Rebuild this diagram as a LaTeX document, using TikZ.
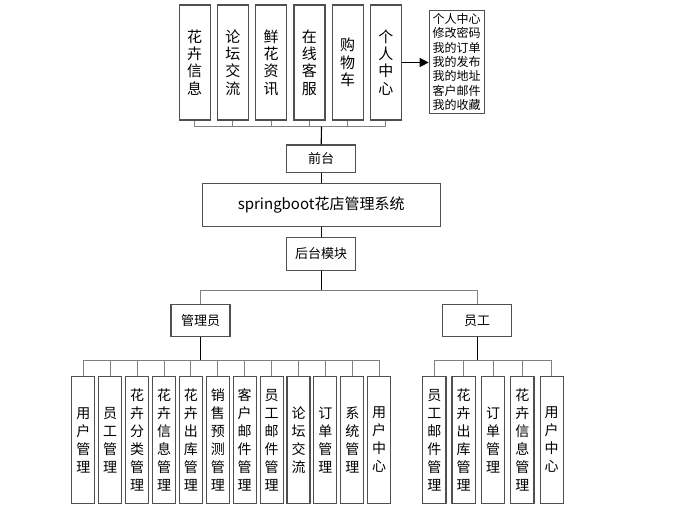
\documentclass[tikz,border=0pt]{standalone}
\usepackage{fontspec}
\setmainfont{Noto Sans CJK SC}
\usetikzlibrary{arrows.meta}
\definecolor{boxc}{HTML}{505050}
\definecolor{linec}{HTML}{808080}
\begin{document}
\begin{tikzpicture}[x=1pt,y=-1pt,
  box/.style={draw=boxc, line width=1.1pt, fill=white, inner sep=0pt, align=center},
  topbox/.style={box, minimum width=31pt, minimum height=115pt, font=\fontsize{15pt}{17.3pt}\selectfont},
  adbox/.style={box, minimum width=23pt, minimum height=126.6pt, font=\fontsize{14pt}{18pt}\selectfont},
  stbox/.style={box, minimum width=23.3pt, minimum height=126.6pt, font=\fontsize{14pt}{18pt}\selectfont},
  midbox/.style={box, minimum width=69pt, minimum height=32.7pt, font=\fontsize{13pt}{15pt}\selectfont},
  branch/.style={draw=linec, line width=1pt},
  trunk/.style={draw=black, line width=1.1pt}]
\useasboundingbox (0,0) rectangle (675,519);

% top modules
\node[topbox] (t1) at (194.7,62.5) {花\\卉\\信\\息};
\node[topbox] (t2) at (232.95,62.5) {论\\坛\\交\\流};
\node[topbox] (t3) at (271.2,62.5) {鲜\\花\\资\\讯};
\node[topbox] (t4) at (309.45,62.5) {在\\线\\客\\服};
\node[topbox] (t5) at (347.7,62.5) {购\\物\\车};
\node[topbox] (t6) at (385.95,62.5) {个\\人\\中\\心};
\node[box, minimum width=55pt, minimum height=102.6pt, align=left, font=\fontsize{12pt}{14.4pt}\selectfont] (lst) at (456.7,62) {个人中心\\修改密码\\我的订单\\我的发布\\我的地址\\客户邮件\\我的收藏};
\draw[line width=1.1pt, -{Triangle[length=9pt,width=9pt]}] (t6.east) -- (t6.east -| lst.west);

\coordinate (tb) at (321.5,126.7);
\foreach \i in {1,...,6} \draw[branch] (t\i.south) -- (t\i.south |- tb);
\draw[branch] (t1.south |- tb) -- (t6.south |- tb);

\node[midbox, minimum height=27.7pt] (qt) at (321.2,158.8) {前台};
\node[box, minimum width=237.7pt, minimum height=43.4pt, font=\fontsize{15pt}{17pt}\selectfont] (sys) at (321.2,205) {springboot花店管理系统};
\node[midbox] (ht) at (321.2,253.7) {后台模块};
\draw[trunk] (tb) -- (qt.north);
\draw[trunk] (qt.south) -- (sys.north);
\draw[trunk] (sys.south) -- (ht.north);

\node[midbox, minimum width=59pt, minimum height=32.4pt] (adm) at (200.5,320.5) {管理员};
\node[midbox] (stf) at (477.2,320.4) {员工};
\coordinate (b2) at (321.2,290.7);
\draw[trunk] (ht.south) -- (b2);
\draw[branch] (adm.north) -- (adm.north |- b2) -- (stf.north |- b2) -- (stf.north);

% admin modules
\foreach \i/\t in {0/{用\\户\\管\\理},1/{员\\工\\管\\理},2/{花\\卉\\分\\类\\管\\理},3/{花\\卉\\信\\息\\管\\理},4/{花\\卉\\出\\库\\管\\理},5/{销\\售\\预\\测\\管\\理},6/{客\\户\\邮\\件\\管\\理},7/{员\\工\\邮\\件\\管\\理},8/{论\\坛\\交\\流},9/{订\\单\\管\\理},10/{系\\统\\管\\理},11/{用\\户\\中\\心}}
  \node[adbox] (a\i) at ({83.3+26.9*\i},440) {\t};
\coordinate (ab) at (200.5,360);
\draw[trunk] (adm.south) -- (ab);
\foreach \i in {0,...,11} \draw[branch] (a\i.north) -- (a\i.north |- ab);
\draw[branch] (a0.north |- ab) -- (a11.north |- ab);

% staff modules
\foreach \i/\t in {0/{员\\工\\邮\\件\\管\\理},1/{花\\卉\\出\\库\\管\\理},2/{订\\单\\管\\理},3/{花\\卉\\信\\息\\管\\理},4/{用\\户\\中\\心}}
  \node[stbox] (s\i) at ({434.3+29.35*\i},440) {\t};
\coordinate (sb) at (477.2,360);
\draw[trunk] (stf.south) -- (sb);
\foreach \i in {0,...,4} \draw[branch] (s\i.north) -- (s\i.north |- sb);
\draw[branch] (s0.north |- sb) -- (s4.north |- sb);
\end{tikzpicture}
\end{document}
